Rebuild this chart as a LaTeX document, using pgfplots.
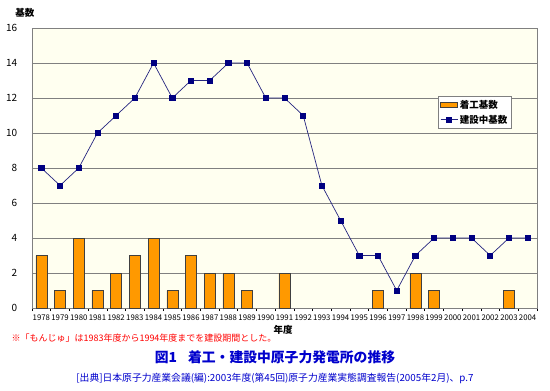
\documentclass[border=0pt]{standalone}
\usepackage{fontspec}
\setmainfont{Noto Sans CJK JP}
\usepackage{pgfplots}
\pgfplotsset{compat=1.18}
\definecolor{barorange}{HTML}{FF9900}
\definecolor{navyc}{HTML}{000080}
\definecolor{plotbg}{HTML}{FFFFF0}
\definecolor{gridc}{HTML}{808080}
\definecolor{titleblue}{HTML}{0000CC}
\begin{document}
\begin{tikzpicture}
\useasboundingbox (0pt,0pt) rectangle (550pt,-391pt);
\begin{axis}[
  at={(32pt,-308pt)}, anchor=south west,
  scale only axis, width=505pt, height=280pt,
  xmin=-0.5, xmax=26.5, ymin=0, ymax=16,
  ytick={0,2,...,16},
  xtick={0,...,26},
  xticklabels={1978,1979,1980,1981,1982,1983,1984,1985,1986,1987,1988,1989,1990,1991,1992,1993,1994,1995,1996,1997,1998,1999,2000,2001,2002,2003,2004},
  minor xtick={-0.5,0.5,...,26.5},
  tick pos=left,
  major x tick style={draw=none},
  minor x tick style={draw=black, line width=0.6pt},
  minor tick length=3pt,
  tick align=outside,
  ytick style={draw=none},
  axis line style={draw=gridc, line width=0.8pt},
  axis background/.style={fill=plotbg},
  ymajorgrids, grid style={draw=gridc, line width=0.8pt},
  /pgf/number format/assume math mode=true,
  xticklabel style={font=\fontsize{7.8}{8}\selectfont, inner sep=1pt, yshift=-1pt},
  yticklabel style={font=\fontsize{10}{11}\selectfont, xshift=-7pt},
  legend style={at={(0.804,0.757)}, anchor=north west, draw=gridc, fill=white,
    font=\fontsize{9.5}{11}\selectfont\bfseries, row sep=1pt, inner sep=2pt},
  legend cell align=left,
]
\addplot[ybar, bar width=11pt, fill=barorange, draw=black!75, line width=0.5pt,
  legend image code/.code={\draw[fill=barorange, draw=black!75] (0pt,-2.5pt) rectangle (17pt,2.5pt);}]
  table[x=x, y=y] {
x y
0 3
1 1
2 4
3 1
4 2
5 3
6 4
7 1
8 3
9 2
10 2
11 1
13 2
18 1
20 2
21 1
25 1
};
\addlegendentry{着工基数}
\addplot[color=navyc!70!gray, line width=0.7pt, mark=square*, mark size=2.6pt,
  mark options={fill=navyc, draw=navyc, solid}]
  table[x=x, y=y] {
x y
0 8
1 7
2 8
3 10
4 11
5 12
6 14
7 12
8 13
9 13
10 14
11 14
12 12
13 12
14 11
15 7
16 5
17 3
18 3
19 1
20 3
21 4
22 4
23 4
24 3
25 4
26 4
};
\addlegendentry{建設中基数}
\end{axis}
\node[font=\fontsize{9.5}{11}\selectfont\bfseries] at (25pt,-13pt) {基数};
\node[font=\fontsize{9.5}{11}\selectfont\bfseries] at (283pt,-330pt) {年度};
\node[anchor=west, text=red, font=\fontsize{9}{10}\selectfont] at (8pt,-338pt) {※「もんじゅ」は1983年度から1994年度までを建設期間とした。};
\node[text=titleblue, font=\fontsize{13.8}{15}\selectfont\bfseries] at (275pt,-357pt) {図1\hspace{0.8em}着工・建設中原子力発電所の推移};
\node[text=titleblue, font=\fontsize{9.8}{11}\selectfont] at (275pt,-378pt) {[出典]日本原子力産業会議(編):2003年度(第45回)原子力産業実態調査報告(2005年2月)、p.7};
\end{tikzpicture}
\end{document}
